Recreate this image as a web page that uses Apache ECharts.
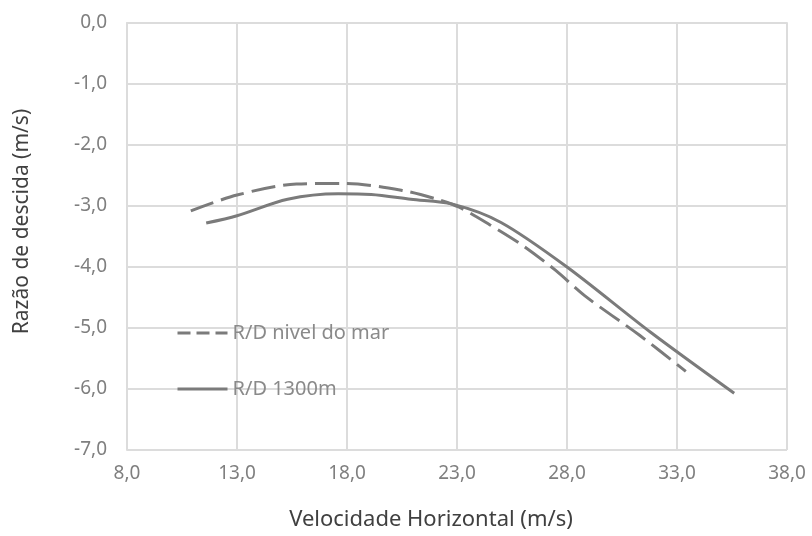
<!DOCTYPE html>
<html>
<head>
<meta charset="utf-8">
<script src="https://cdn.jsdelivr.net/npm/echarts@6/dist/echarts.min.js"></script>
<style>
html,body{margin:0;padding:0;background:#fff;}
#chart{width:812px;height:536px;}
</style>
</head>
<body>
<div id="chart"></div>
<script>
// Series: "R/D nivel do mar" (dashed)
var seaX = [10.9, 13.0, 15.7, 17.9, 20.6, 22.1, 23.1, 24.5, 26.0, 27.5, 28.8, 31.3, 33.4];
var seaY = [-3.08, -2.82, -2.64, -2.63, -2.75, -2.89, -3.02, -3.31, -3.65, -4.06, -4.47, -5.12, -5.71];
// Series: "R/D 1300m" (solid)
var altX = [11.6, 13.0, 15.3, 17.6, 19.1, 20.9, 22.8, 25.0, 28.0, 31.8, 35.6];
var altY = [-3.28, -3.16, -2.89, -2.80, -2.81, -2.89, -2.97, -3.27, -4.00, -5.07, -6.07];
var seriesNames = ['R/D nivel do mar', 'R/D 1300m'];
var xTitle = 'Velocidade Horizontal (m/s)';
var yTitle = 'Razão de descida (m/s)';

function pairs(xs, ys){ return xs.map(function(x,i){ return [x, ys[i]]; }); }
function fmt(v){ return v.toFixed(1).replace('.', ','); }

var grey = '#7b7b7b';
var gridCol = '#dcdcdc';
var txt = '#7f7f7f';
var font = '"Noto Sans", "Open Sans", sans-serif';

var chart = echarts.init(document.getElementById('chart'));
chart.setOption({
  animation: false,
  backgroundColor: '#fff',
  grid: { left: 127, right: 25, top: 23, bottom: 84, containLabel: false },
  legend: {
    orient: 'vertical',
    left: 171, top: 318,
    itemWidth: 50, itemHeight: 14, itemGap: 36,
    itemStyle: { opacity: 0 },
    textStyle: { color: '#8a8a8a', fontSize: 20, fontFamily: font },
    data: [
      { name: seriesNames[0], lineStyle: { type: [13, 6], width: 3, color: grey } },
      { name: seriesNames[1], lineStyle: { type: 'solid', width: 3, color: grey } }
    ]
  },
  xAxis: {
    type: 'value', min: 8, max: 38, interval: 5,
    name: xTitle, nameLocation: 'middle', nameGap: 59,
    nameTextStyle: { color: '#404040', fontSize: 22, fontFamily: font, padding: [0, 52, 0, 0] },
    axisLine: { show: true, lineStyle: { color: gridCol, width: 2 } },
    axisTick: { show: true, length: 5, lineStyle: { color: gridCol, width: 1.5 } },
    axisLabel: { color: txt, fontSize: 19, fontFamily: font, margin: 14, formatter: fmt },
    splitLine: { show: true, lineStyle: { color: gridCol, width: 2 } }
  },
  yAxis: {
    type: 'value', min: -7, max: 0, interval: 1,
    name: yTitle, nameLocation: 'middle', nameGap: 94, nameRotate: 90,
    nameTextStyle: { color: '#404040', fontSize: 21, fontFamily: font, padding: [0, 0, 0, 30] },
    axisLine: { show: true, lineStyle: { color: gridCol, width: 2 } },
    axisTick: { show: false },
    axisLabel: { color: txt, fontSize: 19, fontFamily: font, margin: 20, formatter: fmt },
    splitLine: { show: true, lineStyle: { color: gridCol, width: 2 } }
  },
  series: [
    {
      name: seriesNames[0], type: 'line', smooth: 0.3, symbol: 'none',
      data: pairs(seaX, seaY),
      lineStyle: { color: grey, width: 3, type: [24, 8] },
      itemStyle: { color: grey }
    },
    {
      name: seriesNames[1], type: 'line', smooth: 0.3, symbol: 'none',
      data: pairs(altX, altY),
      lineStyle: { color: grey, width: 3, type: 'solid' },
      itemStyle: { color: grey }
    }
  ]
});
</script>
</body>
</html>
